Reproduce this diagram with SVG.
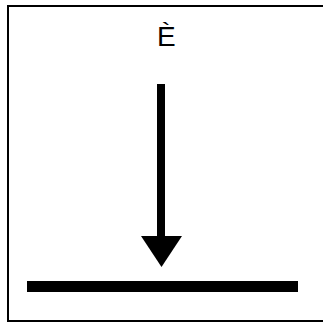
<svg xmlns="http://www.w3.org/2000/svg" width="323" height="323" viewBox="0 0 323 323">
<style>
.frame{fill:none;stroke:#000;stroke-width:2}
.lbl{font-family:"Liberation Sans",Arial,sans-serif;font-size:28px;fill:#000}
</style>
<rect class="frame" x="8" y="6" width="320" height="315"/>
<g id="label"><text class="lbl" x="157" y="46">È</text></g>
<g id="ground"><rect x="27" y="281" width="271" height="11" fill="#000"/></g>
<g id="connectors">
<line x1="161" y1="84" x2="161" y2="236" stroke="#000" stroke-width="8"/>
<path d="M141,236 L182,236 L161.5,267 Z" fill="#000"/>
</g>
</svg>
